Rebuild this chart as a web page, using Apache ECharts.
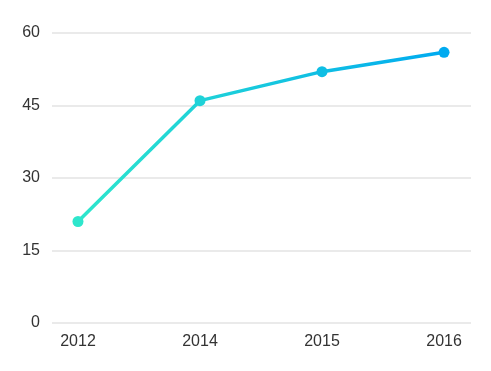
<!DOCTYPE html>
<html>
<head>
<meta charset="utf-8">
<script src="https://cdn.jsdelivr.net/npm/echarts@6/dist/echarts.min.js"></script>
<style>html,body{margin:0;padding:0;background:#fff}#c{width:491px;height:371px}</style>
</head>
<body>
<div id="c"></div>
<script>
const categories = ['2012', '2014', '2015', '2016'];
const values = [21, 46, 52, 56];
const yTicks = [0, 15, 30, 45, 60];

const chart = echarts.init(document.getElementById('c'), null, {renderer: 'canvas'});
const idx = categories.map((c, i) => i);
chart.setOption({
  animation: false,
  backgroundColor: '#fff',
  grid: {left: 52, right: 20, top: 33, bottom: 48, containLabel: false},
  xAxis: {
    type: 'value',
    min: -0.213,
    max: 3.221,
    axisLine: {show: false},
    axisTick: {show: false},
    splitLine: {show: false},
    axisLabel: {
      customValues: idx,
      formatter: v => categories[Math.round(v)] || '',
      color: '#333',
      fontSize: 16,
      fontFamily: 'Liberation Sans, Arial, sans-serif',
      margin: 11
    }
  },
  yAxis: {
    type: 'value',
    min: yTicks[0],
    max: yTicks[yTicks.length - 1],
    interval: 15,
    axisLine: {show: false},
    axisTick: {show: false},
    splitLine: {lineStyle: {color: '#e3e3e3', width: 1.5}},
    axisLabel: {
      color: '#333',
      fontSize: 16,
      fontFamily: 'Liberation Sans, Arial, sans-serif',
      margin: 12
    }
  },
  visualMap: {
    show: false,
    type: 'continuous',
    dimension: 0,
    min: 0,
    max: 3,
    inRange: {color: ['#2ee6cc', '#00aaf0']}
  },
  series: [{
    type: 'line',
    data: values.map((v, i) => [i, v]),
    symbol: 'circle',
    symbolSize: 11,
    lineStyle: {width: 3.5},
    itemStyle: {borderWidth: 0}
  }]
});
</script>
</body>
</html>
